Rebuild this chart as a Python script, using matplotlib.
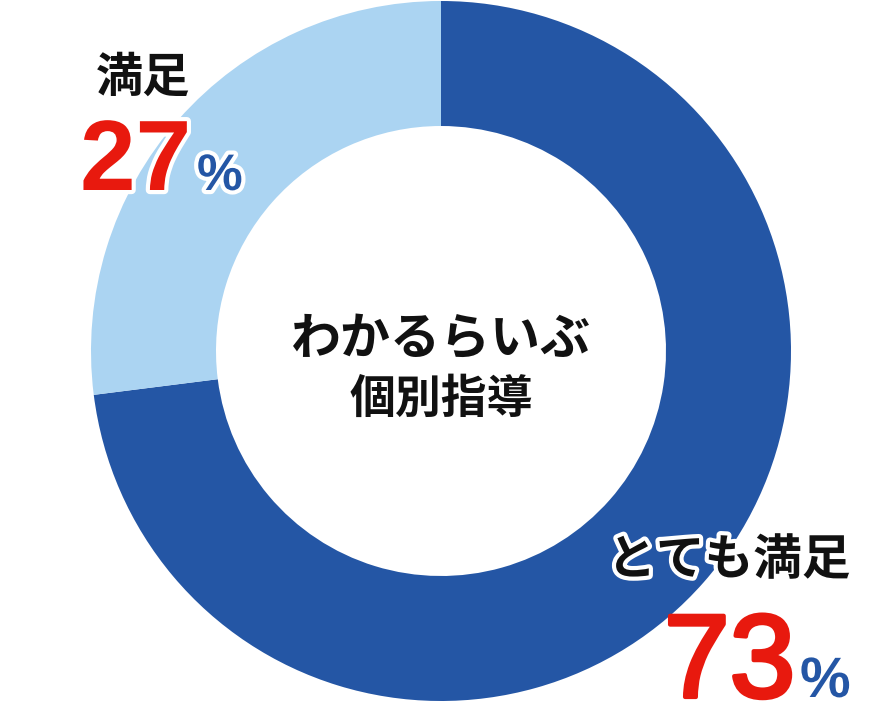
import matplotlib
matplotlib.use('Agg')
import matplotlib.pyplot as plt
import matplotlib.patheffects as pe

plt.rcParams['font.family'] = ['Noto Sans CJK JP', 'DejaVu Sans']

# ── Data ───────────────────────────────────────────────────────────────────────
labels  = ['とても満足', '満足']
values  = [73, 27]
colors  = ['#2456A5', '#ABD4F2']
center_title = ['わかるらいぶ', '個別指導']

RED  = '#E8190E'
BLUE = '#2456A5'
W, H = 888, 708

fig = plt.figure(figsize=(W / 100, H / 100), dpi=100)
ax = fig.add_axes([0, 0, 1, 1])
ax.set_xlim(0, W)
ax.set_ylim(0, H)
ax.set_aspect('equal')
ax.axis('off')

cx, cy, r_out, r_in = 441, H - 351, 350, 225
ax.pie(values, colors=colors, startangle=90, counterclock=False,
       center=(cx, cy), radius=r_out,
       wedgeprops=dict(width=r_out - r_in, linewidth=0))
ax.set_xlim(0, W)
ax.set_ylim(0, H)

outline = [pe.withStroke(linewidth=6, foreground='white')]

# centre title
ax.text(cx, H - 340, center_title[0], ha='center', va='center',
        fontsize=36, fontweight='bold', color='#111111')
ax.text(cx, H - 400, center_title[1], ha='center', va='center',
        fontsize=33, fontweight='bold', color='#111111')

# small segment label (満足 27%)
ax.text(143, H - 78, labels[1], ha='center', va='center',
        fontsize=34, fontweight='bold', color='#111111')
ax.text(80, H - 190, f'{values[1]}', ha='left', va='baseline',
        fontsize=72, fontweight='bold', color=RED,
        family=['Liberation Sans'], path_effects=outline)
ax.text(197, H - 190, '%', ha='left', va='baseline',
        fontsize=37, fontweight='bold', color=BLUE,
        family=['Liberation Sans'], path_effects=outline)

# large segment label (とても満足 73%)
ax.text(729, H - 560, labels[0], ha='center', va='center',
        fontsize=35, fontweight='bold', color='#111111', path_effects=outline)
ax.text(664, H - 697, f'{values[0]}', ha='left', va='baseline',
        fontsize=85, color=RED, family=['Liberation Sans'],
        path_effects=[pe.withStroke(linewidth=3, foreground=RED),
                      pe.Normal()])
ax.text(800, H - 697, '%', ha='left', va='baseline',
        fontsize=41, fontweight='bold', color=BLUE,
        family=['Liberation Sans'], path_effects=outline)

fig.savefig('out.png', dpi=100, facecolor='white')
